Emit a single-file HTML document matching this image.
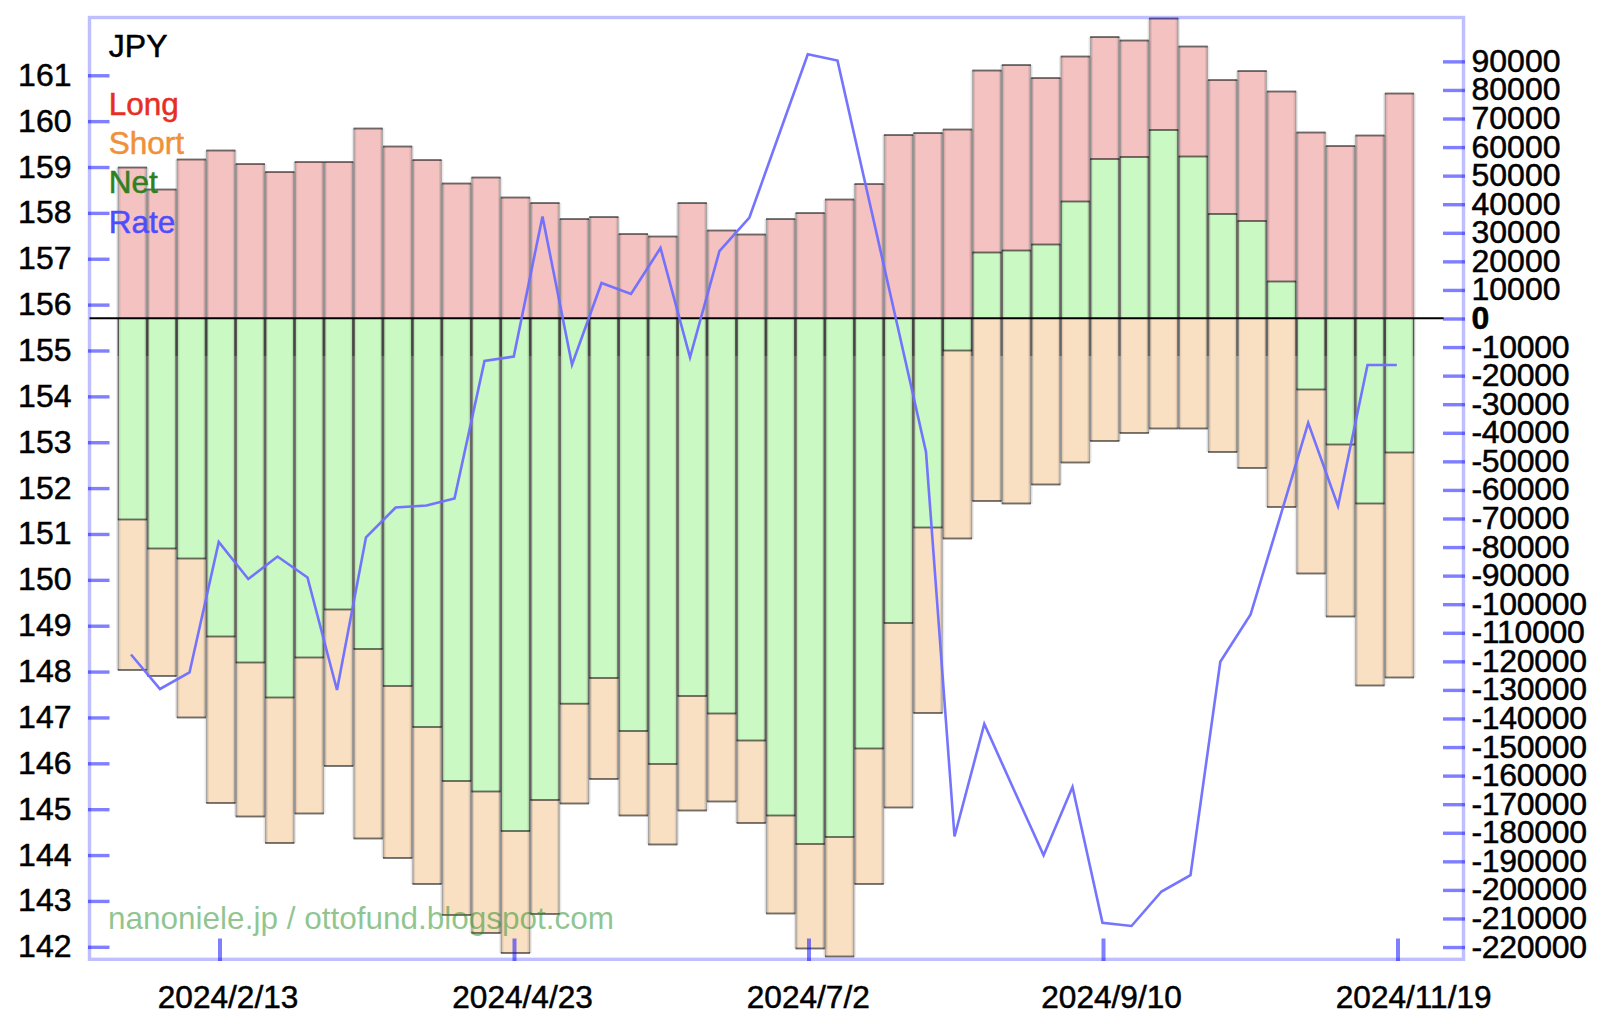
<!DOCTYPE html>
<html><head><meta charset="utf-8"><title>JPY</title>
<style>html,body{margin:0;padding:0;background:#fff}svg{display:block}</style></head>
<body>
<svg width="1600" height="1025" viewBox="0 0 1600 1025">
<rect width="1600" height="1025" fill="#fff"/>
<g><rect x="118.85" y="167.50" width="27.165" height="150.80" fill="#f4c2c1"/><rect x="118.85" y="318.3" width="27.165" height="351.70" fill="#fae0c3"/><rect x="148.31" y="189.50" width="27.165" height="128.80" fill="#f4c2c1"/><rect x="148.31" y="318.3" width="27.165" height="357.70" fill="#fae0c3"/><rect x="177.78" y="159.50" width="27.165" height="158.80" fill="#f4c2c1"/><rect x="177.78" y="318.3" width="27.165" height="399.20" fill="#fae0c3"/><rect x="207.25" y="150.50" width="27.165" height="167.80" fill="#f4c2c1"/><rect x="207.25" y="318.3" width="27.165" height="484.70" fill="#fae0c3"/><rect x="236.71" y="164.00" width="27.165" height="154.30" fill="#f4c2c1"/><rect x="236.71" y="318.3" width="27.165" height="498.20" fill="#fae0c3"/><rect x="266.17" y="172.00" width="27.165" height="146.30" fill="#f4c2c1"/><rect x="266.17" y="318.3" width="27.165" height="524.70" fill="#fae0c3"/><rect x="295.64" y="162.00" width="27.165" height="156.30" fill="#f4c2c1"/><rect x="295.64" y="318.3" width="27.165" height="495.20" fill="#fae0c3"/><rect x="325.10" y="162.00" width="27.165" height="156.30" fill="#f4c2c1"/><rect x="325.10" y="318.3" width="27.165" height="447.70" fill="#fae0c3"/><rect x="354.57" y="128.50" width="27.165" height="189.80" fill="#f4c2c1"/><rect x="354.57" y="318.3" width="27.165" height="520.20" fill="#fae0c3"/><rect x="384.03" y="146.50" width="27.165" height="171.80" fill="#f4c2c1"/><rect x="384.03" y="318.3" width="27.165" height="539.70" fill="#fae0c3"/><rect x="413.50" y="160.00" width="27.165" height="158.30" fill="#f4c2c1"/><rect x="413.50" y="318.3" width="27.165" height="565.70" fill="#fae0c3"/><rect x="442.96" y="183.50" width="27.165" height="134.80" fill="#f4c2c1"/><rect x="442.96" y="318.3" width="27.165" height="596.70" fill="#fae0c3"/><rect x="472.43" y="177.50" width="27.165" height="140.80" fill="#f4c2c1"/><rect x="472.43" y="318.3" width="27.165" height="614.70" fill="#fae0c3"/><rect x="501.89" y="197.50" width="27.165" height="120.80" fill="#f4c2c1"/><rect x="501.89" y="318.3" width="27.165" height="634.70" fill="#fae0c3"/><rect x="531.36" y="203.00" width="27.165" height="115.30" fill="#f4c2c1"/><rect x="531.36" y="318.3" width="27.165" height="595.70" fill="#fae0c3"/><rect x="560.83" y="219.00" width="27.165" height="99.30" fill="#f4c2c1"/><rect x="560.83" y="318.3" width="27.165" height="485.20" fill="#fae0c3"/><rect x="590.29" y="217.00" width="27.165" height="101.30" fill="#f4c2c1"/><rect x="590.29" y="318.3" width="27.165" height="460.70" fill="#fae0c3"/><rect x="619.75" y="234.00" width="27.165" height="84.30" fill="#f4c2c1"/><rect x="619.75" y="318.3" width="27.165" height="497.20" fill="#fae0c3"/><rect x="649.22" y="236.50" width="27.165" height="81.80" fill="#f4c2c1"/><rect x="649.22" y="318.3" width="27.165" height="526.20" fill="#fae0c3"/><rect x="678.69" y="203.00" width="27.165" height="115.30" fill="#f4c2c1"/><rect x="678.69" y="318.3" width="27.165" height="492.20" fill="#fae0c3"/><rect x="708.15" y="230.50" width="27.165" height="87.80" fill="#f4c2c1"/><rect x="708.15" y="318.3" width="27.165" height="483.20" fill="#fae0c3"/><rect x="737.62" y="234.50" width="27.165" height="83.80" fill="#f4c2c1"/><rect x="737.62" y="318.3" width="27.165" height="504.70" fill="#fae0c3"/><rect x="767.08" y="219.00" width="27.165" height="99.30" fill="#f4c2c1"/><rect x="767.08" y="318.3" width="27.165" height="595.20" fill="#fae0c3"/><rect x="796.55" y="213.00" width="27.165" height="105.30" fill="#f4c2c1"/><rect x="796.55" y="318.3" width="27.165" height="630.20" fill="#fae0c3"/><rect x="826.01" y="199.50" width="27.165" height="118.80" fill="#f4c2c1"/><rect x="826.01" y="318.3" width="27.165" height="638.20" fill="#fae0c3"/><rect x="855.48" y="184.00" width="27.165" height="134.30" fill="#f4c2c1"/><rect x="855.48" y="318.3" width="27.165" height="565.70" fill="#fae0c3"/><rect x="884.94" y="135.00" width="27.165" height="183.30" fill="#f4c2c1"/><rect x="884.94" y="318.3" width="27.165" height="489.20" fill="#fae0c3"/><rect x="914.40" y="133.00" width="27.165" height="185.30" fill="#f4c2c1"/><rect x="914.40" y="318.3" width="27.165" height="394.70" fill="#fae0c3"/><rect x="943.87" y="129.50" width="27.165" height="188.80" fill="#f4c2c1"/><rect x="943.87" y="318.3" width="27.165" height="220.20" fill="#fae0c3"/><rect x="973.34" y="70.50" width="27.165" height="247.80" fill="#f4c2c1"/><rect x="973.34" y="318.3" width="27.165" height="182.70" fill="#fae0c3"/><rect x="1002.80" y="65.00" width="27.165" height="253.30" fill="#f4c2c1"/><rect x="1002.80" y="318.3" width="27.165" height="185.20" fill="#fae0c3"/><rect x="1032.27" y="78.00" width="27.165" height="240.30" fill="#f4c2c1"/><rect x="1032.27" y="318.3" width="27.165" height="166.20" fill="#fae0c3"/><rect x="1061.73" y="56.50" width="27.165" height="261.80" fill="#f4c2c1"/><rect x="1061.73" y="318.3" width="27.165" height="144.20" fill="#fae0c3"/><rect x="1091.20" y="37.00" width="27.165" height="281.30" fill="#f4c2c1"/><rect x="1091.20" y="318.3" width="27.165" height="122.70" fill="#fae0c3"/><rect x="1120.66" y="40.50" width="27.165" height="277.80" fill="#f4c2c1"/><rect x="1120.66" y="318.3" width="27.165" height="114.70" fill="#fae0c3"/><rect x="1150.13" y="18.50" width="27.165" height="299.80" fill="#f4c2c1"/><rect x="1150.13" y="318.3" width="27.165" height="110.20" fill="#fae0c3"/><rect x="1179.59" y="46.50" width="27.165" height="271.80" fill="#f4c2c1"/><rect x="1179.59" y="318.3" width="27.165" height="110.20" fill="#fae0c3"/><rect x="1209.06" y="80.00" width="27.165" height="238.30" fill="#f4c2c1"/><rect x="1209.06" y="318.3" width="27.165" height="133.70" fill="#fae0c3"/><rect x="1238.52" y="71.00" width="27.165" height="247.30" fill="#f4c2c1"/><rect x="1238.52" y="318.3" width="27.165" height="149.70" fill="#fae0c3"/><rect x="1267.99" y="91.50" width="27.165" height="226.80" fill="#f4c2c1"/><rect x="1267.99" y="318.3" width="27.165" height="188.70" fill="#fae0c3"/><rect x="1297.45" y="132.50" width="27.165" height="185.80" fill="#f4c2c1"/><rect x="1297.45" y="318.3" width="27.165" height="255.20" fill="#fae0c3"/><rect x="1326.92" y="146.00" width="27.165" height="172.30" fill="#f4c2c1"/><rect x="1326.92" y="318.3" width="27.165" height="298.20" fill="#fae0c3"/><rect x="1356.38" y="135.50" width="27.165" height="182.80" fill="#f4c2c1"/><rect x="1356.38" y="318.3" width="27.165" height="367.20" fill="#fae0c3"/><rect x="1385.85" y="93.50" width="27.165" height="224.80" fill="#f4c2c1"/><rect x="1385.85" y="318.3" width="27.165" height="359.20" fill="#fae0c3"/><rect x="118.85" y="318.30" width="27.165" height="201.20" fill="#cbf9c4"/><rect x="148.31" y="318.30" width="27.165" height="230.20" fill="#cbf9c4"/><rect x="177.78" y="318.30" width="27.165" height="240.20" fill="#cbf9c4"/><rect x="207.25" y="318.30" width="27.165" height="318.20" fill="#cbf9c4"/><rect x="236.71" y="318.30" width="27.165" height="344.20" fill="#cbf9c4"/><rect x="266.17" y="318.30" width="27.165" height="379.20" fill="#cbf9c4"/><rect x="295.64" y="318.30" width="27.165" height="339.20" fill="#cbf9c4"/><rect x="325.10" y="318.30" width="27.165" height="291.20" fill="#cbf9c4"/><rect x="354.57" y="318.30" width="27.165" height="330.70" fill="#cbf9c4"/><rect x="384.03" y="318.30" width="27.165" height="367.70" fill="#cbf9c4"/><rect x="413.50" y="318.30" width="27.165" height="408.70" fill="#cbf9c4"/><rect x="442.96" y="318.30" width="27.165" height="462.70" fill="#cbf9c4"/><rect x="472.43" y="318.30" width="27.165" height="473.20" fill="#cbf9c4"/><rect x="501.89" y="318.30" width="27.165" height="512.70" fill="#cbf9c4"/><rect x="531.36" y="318.30" width="27.165" height="481.70" fill="#cbf9c4"/><rect x="560.83" y="318.30" width="27.165" height="385.45" fill="#cbf9c4"/><rect x="590.29" y="318.30" width="27.165" height="359.70" fill="#cbf9c4"/><rect x="619.75" y="318.30" width="27.165" height="412.70" fill="#cbf9c4"/><rect x="649.22" y="318.30" width="27.165" height="445.70" fill="#cbf9c4"/><rect x="678.69" y="318.30" width="27.165" height="377.70" fill="#cbf9c4"/><rect x="708.15" y="318.30" width="27.165" height="395.20" fill="#cbf9c4"/><rect x="737.62" y="318.30" width="27.165" height="422.20" fill="#cbf9c4"/><rect x="767.08" y="318.30" width="27.165" height="497.20" fill="#cbf9c4"/><rect x="796.55" y="318.30" width="27.165" height="525.70" fill="#cbf9c4"/><rect x="826.01" y="318.30" width="27.165" height="518.70" fill="#cbf9c4"/><rect x="855.48" y="318.30" width="27.165" height="430.20" fill="#cbf9c4"/><rect x="884.94" y="318.30" width="27.165" height="304.70" fill="#cbf9c4"/><rect x="914.40" y="318.30" width="27.165" height="209.20" fill="#cbf9c4"/><rect x="943.87" y="318.30" width="27.165" height="32.20" fill="#cbf9c4"/><rect x="973.34" y="252.50" width="27.165" height="65.80" fill="#cbf9c4"/><rect x="1002.80" y="250.50" width="27.165" height="67.80" fill="#cbf9c4"/><rect x="1032.27" y="244.50" width="27.165" height="73.80" fill="#cbf9c4"/><rect x="1061.73" y="201.50" width="27.165" height="116.80" fill="#cbf9c4"/><rect x="1091.20" y="159.00" width="27.165" height="159.30" fill="#cbf9c4"/><rect x="1120.66" y="157.00" width="27.165" height="161.30" fill="#cbf9c4"/><rect x="1150.13" y="130.00" width="27.165" height="188.30" fill="#cbf9c4"/><rect x="1179.59" y="156.50" width="27.165" height="161.80" fill="#cbf9c4"/><rect x="1209.06" y="214.00" width="27.165" height="104.30" fill="#cbf9c4"/><rect x="1238.52" y="221.00" width="27.165" height="97.30" fill="#cbf9c4"/><rect x="1267.99" y="281.50" width="27.165" height="36.80" fill="#cbf9c4"/><rect x="1297.45" y="318.30" width="27.165" height="71.20" fill="#cbf9c4"/><rect x="1326.92" y="318.30" width="27.165" height="126.20" fill="#cbf9c4"/><rect x="1356.38" y="318.30" width="27.165" height="185.20" fill="#cbf9c4"/><rect x="1385.85" y="318.30" width="27.165" height="134.20" fill="#cbf9c4"/></g>
<g stroke="#000" stroke-opacity="0.085" stroke-width="4.4"><line x1="118.30" y1="167.50" x2="118.30" y2="318.30"/><line x1="146.56" y1="167.50" x2="146.56" y2="318.30"/><line x1="118.30" y1="318.30" x2="118.30" y2="670.00"/><line x1="146.56" y1="318.30" x2="146.56" y2="670.00"/><line x1="147.76" y1="189.50" x2="147.76" y2="318.30"/><line x1="176.03" y1="189.50" x2="176.03" y2="318.30"/><line x1="147.76" y1="318.30" x2="147.76" y2="676.00"/><line x1="176.03" y1="318.30" x2="176.03" y2="676.00"/><line x1="177.23" y1="159.50" x2="177.23" y2="318.30"/><line x1="205.50" y1="159.50" x2="205.50" y2="318.30"/><line x1="177.23" y1="318.30" x2="177.23" y2="717.50"/><line x1="205.50" y1="318.30" x2="205.50" y2="717.50"/><line x1="206.69" y1="150.50" x2="206.69" y2="318.30"/><line x1="234.96" y1="150.50" x2="234.96" y2="318.30"/><line x1="206.69" y1="318.30" x2="206.69" y2="803.00"/><line x1="234.96" y1="318.30" x2="234.96" y2="803.00"/><line x1="236.16" y1="164.00" x2="236.16" y2="318.30"/><line x1="264.42" y1="164.00" x2="264.42" y2="318.30"/><line x1="236.16" y1="318.30" x2="236.16" y2="816.50"/><line x1="264.42" y1="318.30" x2="264.42" y2="816.50"/><line x1="265.62" y1="172.00" x2="265.62" y2="318.30"/><line x1="293.89" y1="172.00" x2="293.89" y2="318.30"/><line x1="265.62" y1="318.30" x2="265.62" y2="843.00"/><line x1="293.89" y1="318.30" x2="293.89" y2="843.00"/><line x1="295.09" y1="162.00" x2="295.09" y2="318.30"/><line x1="323.35" y1="162.00" x2="323.35" y2="318.30"/><line x1="295.09" y1="318.30" x2="295.09" y2="813.50"/><line x1="323.35" y1="318.30" x2="323.35" y2="813.50"/><line x1="324.56" y1="162.00" x2="324.56" y2="318.30"/><line x1="352.82" y1="162.00" x2="352.82" y2="318.30"/><line x1="324.56" y1="318.30" x2="324.56" y2="766.00"/><line x1="352.82" y1="318.30" x2="352.82" y2="766.00"/><line x1="354.02" y1="128.50" x2="354.02" y2="318.30"/><line x1="382.28" y1="128.50" x2="382.28" y2="318.30"/><line x1="354.02" y1="318.30" x2="354.02" y2="838.50"/><line x1="382.28" y1="318.30" x2="382.28" y2="838.50"/><line x1="383.49" y1="146.50" x2="383.49" y2="318.30"/><line x1="411.75" y1="146.50" x2="411.75" y2="318.30"/><line x1="383.49" y1="318.30" x2="383.49" y2="858.00"/><line x1="411.75" y1="318.30" x2="411.75" y2="858.00"/><line x1="412.95" y1="160.00" x2="412.95" y2="318.30"/><line x1="441.21" y1="160.00" x2="441.21" y2="318.30"/><line x1="412.95" y1="318.30" x2="412.95" y2="884.00"/><line x1="441.21" y1="318.30" x2="441.21" y2="884.00"/><line x1="442.42" y1="183.50" x2="442.42" y2="318.30"/><line x1="470.68" y1="183.50" x2="470.68" y2="318.30"/><line x1="442.42" y1="318.30" x2="442.42" y2="915.00"/><line x1="470.68" y1="318.30" x2="470.68" y2="915.00"/><line x1="471.88" y1="177.50" x2="471.88" y2="318.30"/><line x1="500.14" y1="177.50" x2="500.14" y2="318.30"/><line x1="471.88" y1="318.30" x2="471.88" y2="933.00"/><line x1="500.14" y1="318.30" x2="500.14" y2="933.00"/><line x1="501.35" y1="197.50" x2="501.35" y2="318.30"/><line x1="529.61" y1="197.50" x2="529.61" y2="318.30"/><line x1="501.35" y1="318.30" x2="501.35" y2="953.00"/><line x1="529.61" y1="318.30" x2="529.61" y2="953.00"/><line x1="530.81" y1="203.00" x2="530.81" y2="318.30"/><line x1="559.08" y1="203.00" x2="559.08" y2="318.30"/><line x1="530.81" y1="318.30" x2="530.81" y2="914.00"/><line x1="559.08" y1="318.30" x2="559.08" y2="914.00"/><line x1="560.28" y1="219.00" x2="560.28" y2="318.30"/><line x1="588.54" y1="219.00" x2="588.54" y2="318.30"/><line x1="560.28" y1="318.30" x2="560.28" y2="803.50"/><line x1="588.54" y1="318.30" x2="588.54" y2="803.50"/><line x1="589.74" y1="217.00" x2="589.74" y2="318.30"/><line x1="618.00" y1="217.00" x2="618.00" y2="318.30"/><line x1="589.74" y1="318.30" x2="589.74" y2="779.00"/><line x1="618.00" y1="318.30" x2="618.00" y2="779.00"/><line x1="619.21" y1="234.00" x2="619.21" y2="318.30"/><line x1="647.47" y1="234.00" x2="647.47" y2="318.30"/><line x1="619.21" y1="318.30" x2="619.21" y2="815.50"/><line x1="647.47" y1="318.30" x2="647.47" y2="815.50"/><line x1="648.67" y1="236.50" x2="648.67" y2="318.30"/><line x1="676.94" y1="236.50" x2="676.94" y2="318.30"/><line x1="648.67" y1="318.30" x2="648.67" y2="844.50"/><line x1="676.94" y1="318.30" x2="676.94" y2="844.50"/><line x1="678.14" y1="203.00" x2="678.14" y2="318.30"/><line x1="706.40" y1="203.00" x2="706.40" y2="318.30"/><line x1="678.14" y1="318.30" x2="678.14" y2="810.50"/><line x1="706.40" y1="318.30" x2="706.40" y2="810.50"/><line x1="707.60" y1="230.50" x2="707.60" y2="318.30"/><line x1="735.87" y1="230.50" x2="735.87" y2="318.30"/><line x1="707.60" y1="318.30" x2="707.60" y2="801.50"/><line x1="735.87" y1="318.30" x2="735.87" y2="801.50"/><line x1="737.07" y1="234.50" x2="737.07" y2="318.30"/><line x1="765.33" y1="234.50" x2="765.33" y2="318.30"/><line x1="737.07" y1="318.30" x2="737.07" y2="823.00"/><line x1="765.33" y1="318.30" x2="765.33" y2="823.00"/><line x1="766.53" y1="219.00" x2="766.53" y2="318.30"/><line x1="794.80" y1="219.00" x2="794.80" y2="318.30"/><line x1="766.53" y1="318.30" x2="766.53" y2="913.50"/><line x1="794.80" y1="318.30" x2="794.80" y2="913.50"/><line x1="796.00" y1="213.00" x2="796.00" y2="318.30"/><line x1="824.26" y1="213.00" x2="824.26" y2="318.30"/><line x1="796.00" y1="318.30" x2="796.00" y2="948.50"/><line x1="824.26" y1="318.30" x2="824.26" y2="948.50"/><line x1="825.46" y1="199.50" x2="825.46" y2="318.30"/><line x1="853.73" y1="199.50" x2="853.73" y2="318.30"/><line x1="825.46" y1="318.30" x2="825.46" y2="956.50"/><line x1="853.73" y1="318.30" x2="853.73" y2="956.50"/><line x1="854.93" y1="184.00" x2="854.93" y2="318.30"/><line x1="883.19" y1="184.00" x2="883.19" y2="318.30"/><line x1="854.93" y1="318.30" x2="854.93" y2="884.00"/><line x1="883.19" y1="318.30" x2="883.19" y2="884.00"/><line x1="884.39" y1="135.00" x2="884.39" y2="318.30"/><line x1="912.65" y1="135.00" x2="912.65" y2="318.30"/><line x1="884.39" y1="318.30" x2="884.39" y2="807.50"/><line x1="912.65" y1="318.30" x2="912.65" y2="807.50"/><line x1="913.86" y1="133.00" x2="913.86" y2="318.30"/><line x1="942.12" y1="133.00" x2="942.12" y2="318.30"/><line x1="913.86" y1="318.30" x2="913.86" y2="713.00"/><line x1="942.12" y1="318.30" x2="942.12" y2="713.00"/><line x1="943.32" y1="129.50" x2="943.32" y2="318.30"/><line x1="971.59" y1="129.50" x2="971.59" y2="318.30"/><line x1="943.32" y1="318.30" x2="943.32" y2="538.50"/><line x1="971.59" y1="318.30" x2="971.59" y2="538.50"/><line x1="972.79" y1="70.50" x2="972.79" y2="318.30"/><line x1="1001.05" y1="70.50" x2="1001.05" y2="318.30"/><line x1="972.79" y1="318.30" x2="972.79" y2="501.00"/><line x1="1001.05" y1="318.30" x2="1001.05" y2="501.00"/><line x1="1002.25" y1="65.00" x2="1002.25" y2="318.30"/><line x1="1030.52" y1="65.00" x2="1030.52" y2="318.30"/><line x1="1002.25" y1="318.30" x2="1002.25" y2="503.50"/><line x1="1030.52" y1="318.30" x2="1030.52" y2="503.50"/><line x1="1031.71" y1="78.00" x2="1031.71" y2="318.30"/><line x1="1059.98" y1="78.00" x2="1059.98" y2="318.30"/><line x1="1031.71" y1="318.30" x2="1031.71" y2="484.50"/><line x1="1059.98" y1="318.30" x2="1059.98" y2="484.50"/><line x1="1061.18" y1="56.50" x2="1061.18" y2="318.30"/><line x1="1089.45" y1="56.50" x2="1089.45" y2="318.30"/><line x1="1061.18" y1="318.30" x2="1061.18" y2="462.50"/><line x1="1089.45" y1="318.30" x2="1089.45" y2="462.50"/><line x1="1090.64" y1="37.00" x2="1090.64" y2="318.30"/><line x1="1118.91" y1="37.00" x2="1118.91" y2="318.30"/><line x1="1090.64" y1="318.30" x2="1090.64" y2="441.00"/><line x1="1118.91" y1="318.30" x2="1118.91" y2="441.00"/><line x1="1120.11" y1="40.50" x2="1120.11" y2="318.30"/><line x1="1148.38" y1="40.50" x2="1148.38" y2="318.30"/><line x1="1120.11" y1="318.30" x2="1120.11" y2="433.00"/><line x1="1148.38" y1="318.30" x2="1148.38" y2="433.00"/><line x1="1149.58" y1="18.50" x2="1149.58" y2="318.30"/><line x1="1177.84" y1="18.50" x2="1177.84" y2="318.30"/><line x1="1149.58" y1="318.30" x2="1149.58" y2="428.50"/><line x1="1177.84" y1="318.30" x2="1177.84" y2="428.50"/><line x1="1179.04" y1="46.50" x2="1179.04" y2="318.30"/><line x1="1207.31" y1="46.50" x2="1207.31" y2="318.30"/><line x1="1179.04" y1="318.30" x2="1179.04" y2="428.50"/><line x1="1207.31" y1="318.30" x2="1207.31" y2="428.50"/><line x1="1208.50" y1="80.00" x2="1208.50" y2="318.30"/><line x1="1236.77" y1="80.00" x2="1236.77" y2="318.30"/><line x1="1208.50" y1="318.30" x2="1208.50" y2="452.00"/><line x1="1236.77" y1="318.30" x2="1236.77" y2="452.00"/><line x1="1237.97" y1="71.00" x2="1237.97" y2="318.30"/><line x1="1266.24" y1="71.00" x2="1266.24" y2="318.30"/><line x1="1237.97" y1="318.30" x2="1237.97" y2="468.00"/><line x1="1266.24" y1="318.30" x2="1266.24" y2="468.00"/><line x1="1267.43" y1="91.50" x2="1267.43" y2="318.30"/><line x1="1295.70" y1="91.50" x2="1295.70" y2="318.30"/><line x1="1267.43" y1="318.30" x2="1267.43" y2="507.00"/><line x1="1295.70" y1="318.30" x2="1295.70" y2="507.00"/><line x1="1296.90" y1="132.50" x2="1296.90" y2="318.30"/><line x1="1325.17" y1="132.50" x2="1325.17" y2="318.30"/><line x1="1296.90" y1="318.30" x2="1296.90" y2="573.50"/><line x1="1325.17" y1="318.30" x2="1325.17" y2="573.50"/><line x1="1326.37" y1="146.00" x2="1326.37" y2="318.30"/><line x1="1354.63" y1="146.00" x2="1354.63" y2="318.30"/><line x1="1326.37" y1="318.30" x2="1326.37" y2="616.50"/><line x1="1354.63" y1="318.30" x2="1354.63" y2="616.50"/><line x1="1355.83" y1="135.50" x2="1355.83" y2="318.30"/><line x1="1384.10" y1="135.50" x2="1384.10" y2="318.30"/><line x1="1355.83" y1="318.30" x2="1355.83" y2="685.50"/><line x1="1384.10" y1="318.30" x2="1384.10" y2="685.50"/><line x1="1385.29" y1="93.50" x2="1385.29" y2="318.30"/><line x1="1413.56" y1="93.50" x2="1413.56" y2="318.30"/><line x1="1385.29" y1="318.30" x2="1385.29" y2="677.50"/><line x1="1413.56" y1="318.30" x2="1413.56" y2="677.50"/></g>
<g stroke="#000" stroke-opacity="0.29" stroke-width="1.35"><line x1="118.30" y1="167.50" x2="118.30" y2="318.30"/><line x1="146.56" y1="167.50" x2="146.56" y2="318.30"/><line x1="118.30" y1="318.30" x2="118.30" y2="670.00"/><line x1="146.56" y1="318.30" x2="146.56" y2="670.00"/><line x1="118.30" y1="318.30" x2="118.30" y2="519.50"/><line x1="146.56" y1="318.30" x2="146.56" y2="519.50"/><line x1="118.30" y1="318.30" x2="118.30" y2="356.00"/><line x1="146.56" y1="318.30" x2="146.56" y2="356.00"/><line x1="147.76" y1="189.50" x2="147.76" y2="318.30"/><line x1="176.03" y1="189.50" x2="176.03" y2="318.30"/><line x1="147.76" y1="318.30" x2="147.76" y2="676.00"/><line x1="176.03" y1="318.30" x2="176.03" y2="676.00"/><line x1="147.76" y1="318.30" x2="147.76" y2="548.50"/><line x1="176.03" y1="318.30" x2="176.03" y2="548.50"/><line x1="147.76" y1="318.30" x2="147.76" y2="356.00"/><line x1="176.03" y1="318.30" x2="176.03" y2="356.00"/><line x1="177.23" y1="159.50" x2="177.23" y2="318.30"/><line x1="205.50" y1="159.50" x2="205.50" y2="318.30"/><line x1="177.23" y1="318.30" x2="177.23" y2="717.50"/><line x1="205.50" y1="318.30" x2="205.50" y2="717.50"/><line x1="177.23" y1="318.30" x2="177.23" y2="558.50"/><line x1="205.50" y1="318.30" x2="205.50" y2="558.50"/><line x1="177.23" y1="318.30" x2="177.23" y2="356.00"/><line x1="205.50" y1="318.30" x2="205.50" y2="356.00"/><line x1="206.69" y1="150.50" x2="206.69" y2="318.30"/><line x1="234.96" y1="150.50" x2="234.96" y2="318.30"/><line x1="206.69" y1="318.30" x2="206.69" y2="803.00"/><line x1="234.96" y1="318.30" x2="234.96" y2="803.00"/><line x1="206.69" y1="318.30" x2="206.69" y2="636.50"/><line x1="234.96" y1="318.30" x2="234.96" y2="636.50"/><line x1="206.69" y1="318.30" x2="206.69" y2="356.00"/><line x1="234.96" y1="318.30" x2="234.96" y2="356.00"/><line x1="236.16" y1="164.00" x2="236.16" y2="318.30"/><line x1="264.42" y1="164.00" x2="264.42" y2="318.30"/><line x1="236.16" y1="318.30" x2="236.16" y2="816.50"/><line x1="264.42" y1="318.30" x2="264.42" y2="816.50"/><line x1="236.16" y1="318.30" x2="236.16" y2="662.50"/><line x1="264.42" y1="318.30" x2="264.42" y2="662.50"/><line x1="236.16" y1="318.30" x2="236.16" y2="356.00"/><line x1="264.42" y1="318.30" x2="264.42" y2="356.00"/><line x1="265.62" y1="172.00" x2="265.62" y2="318.30"/><line x1="293.89" y1="172.00" x2="293.89" y2="318.30"/><line x1="265.62" y1="318.30" x2="265.62" y2="843.00"/><line x1="293.89" y1="318.30" x2="293.89" y2="843.00"/><line x1="265.62" y1="318.30" x2="265.62" y2="697.50"/><line x1="293.89" y1="318.30" x2="293.89" y2="697.50"/><line x1="265.62" y1="318.30" x2="265.62" y2="356.00"/><line x1="293.89" y1="318.30" x2="293.89" y2="356.00"/><line x1="295.09" y1="162.00" x2="295.09" y2="318.30"/><line x1="323.35" y1="162.00" x2="323.35" y2="318.30"/><line x1="295.09" y1="318.30" x2="295.09" y2="813.50"/><line x1="323.35" y1="318.30" x2="323.35" y2="813.50"/><line x1="295.09" y1="318.30" x2="295.09" y2="657.50"/><line x1="323.35" y1="318.30" x2="323.35" y2="657.50"/><line x1="295.09" y1="318.30" x2="295.09" y2="356.00"/><line x1="323.35" y1="318.30" x2="323.35" y2="356.00"/><line x1="324.56" y1="162.00" x2="324.56" y2="318.30"/><line x1="352.82" y1="162.00" x2="352.82" y2="318.30"/><line x1="324.56" y1="318.30" x2="324.56" y2="766.00"/><line x1="352.82" y1="318.30" x2="352.82" y2="766.00"/><line x1="324.56" y1="318.30" x2="324.56" y2="609.50"/><line x1="352.82" y1="318.30" x2="352.82" y2="609.50"/><line x1="324.56" y1="318.30" x2="324.56" y2="356.00"/><line x1="352.82" y1="318.30" x2="352.82" y2="356.00"/><line x1="354.02" y1="128.50" x2="354.02" y2="318.30"/><line x1="382.28" y1="128.50" x2="382.28" y2="318.30"/><line x1="354.02" y1="318.30" x2="354.02" y2="838.50"/><line x1="382.28" y1="318.30" x2="382.28" y2="838.50"/><line x1="354.02" y1="318.30" x2="354.02" y2="649.00"/><line x1="382.28" y1="318.30" x2="382.28" y2="649.00"/><line x1="354.02" y1="318.30" x2="354.02" y2="356.00"/><line x1="382.28" y1="318.30" x2="382.28" y2="356.00"/><line x1="383.49" y1="146.50" x2="383.49" y2="318.30"/><line x1="411.75" y1="146.50" x2="411.75" y2="318.30"/><line x1="383.49" y1="318.30" x2="383.49" y2="858.00"/><line x1="411.75" y1="318.30" x2="411.75" y2="858.00"/><line x1="383.49" y1="318.30" x2="383.49" y2="686.00"/><line x1="411.75" y1="318.30" x2="411.75" y2="686.00"/><line x1="383.49" y1="318.30" x2="383.49" y2="356.00"/><line x1="411.75" y1="318.30" x2="411.75" y2="356.00"/><line x1="412.95" y1="160.00" x2="412.95" y2="318.30"/><line x1="441.21" y1="160.00" x2="441.21" y2="318.30"/><line x1="412.95" y1="318.30" x2="412.95" y2="884.00"/><line x1="441.21" y1="318.30" x2="441.21" y2="884.00"/><line x1="412.95" y1="318.30" x2="412.95" y2="727.00"/><line x1="441.21" y1="318.30" x2="441.21" y2="727.00"/><line x1="412.95" y1="318.30" x2="412.95" y2="356.00"/><line x1="441.21" y1="318.30" x2="441.21" y2="356.00"/><line x1="442.42" y1="183.50" x2="442.42" y2="318.30"/><line x1="470.68" y1="183.50" x2="470.68" y2="318.30"/><line x1="442.42" y1="318.30" x2="442.42" y2="915.00"/><line x1="470.68" y1="318.30" x2="470.68" y2="915.00"/><line x1="442.42" y1="318.30" x2="442.42" y2="781.00"/><line x1="470.68" y1="318.30" x2="470.68" y2="781.00"/><line x1="442.42" y1="318.30" x2="442.42" y2="356.00"/><line x1="470.68" y1="318.30" x2="470.68" y2="356.00"/><line x1="471.88" y1="177.50" x2="471.88" y2="318.30"/><line x1="500.14" y1="177.50" x2="500.14" y2="318.30"/><line x1="471.88" y1="318.30" x2="471.88" y2="933.00"/><line x1="500.14" y1="318.30" x2="500.14" y2="933.00"/><line x1="471.88" y1="318.30" x2="471.88" y2="791.50"/><line x1="500.14" y1="318.30" x2="500.14" y2="791.50"/><line x1="471.88" y1="318.30" x2="471.88" y2="356.00"/><line x1="500.14" y1="318.30" x2="500.14" y2="356.00"/><line x1="501.35" y1="197.50" x2="501.35" y2="318.30"/><line x1="529.61" y1="197.50" x2="529.61" y2="318.30"/><line x1="501.35" y1="318.30" x2="501.35" y2="953.00"/><line x1="529.61" y1="318.30" x2="529.61" y2="953.00"/><line x1="501.35" y1="318.30" x2="501.35" y2="831.00"/><line x1="529.61" y1="318.30" x2="529.61" y2="831.00"/><line x1="501.35" y1="318.30" x2="501.35" y2="356.00"/><line x1="529.61" y1="318.30" x2="529.61" y2="356.00"/><line x1="530.81" y1="203.00" x2="530.81" y2="318.30"/><line x1="559.08" y1="203.00" x2="559.08" y2="318.30"/><line x1="530.81" y1="318.30" x2="530.81" y2="914.00"/><line x1="559.08" y1="318.30" x2="559.08" y2="914.00"/><line x1="530.81" y1="318.30" x2="530.81" y2="800.00"/><line x1="559.08" y1="318.30" x2="559.08" y2="800.00"/><line x1="530.81" y1="318.30" x2="530.81" y2="356.00"/><line x1="559.08" y1="318.30" x2="559.08" y2="356.00"/><line x1="560.28" y1="219.00" x2="560.28" y2="318.30"/><line x1="588.54" y1="219.00" x2="588.54" y2="318.30"/><line x1="560.28" y1="318.30" x2="560.28" y2="803.50"/><line x1="588.54" y1="318.30" x2="588.54" y2="803.50"/><line x1="560.28" y1="318.30" x2="560.28" y2="703.75"/><line x1="588.54" y1="318.30" x2="588.54" y2="703.75"/><line x1="560.28" y1="318.30" x2="560.28" y2="356.00"/><line x1="588.54" y1="318.30" x2="588.54" y2="356.00"/><line x1="589.74" y1="217.00" x2="589.74" y2="318.30"/><line x1="618.00" y1="217.00" x2="618.00" y2="318.30"/><line x1="589.74" y1="318.30" x2="589.74" y2="779.00"/><line x1="618.00" y1="318.30" x2="618.00" y2="779.00"/><line x1="589.74" y1="318.30" x2="589.74" y2="678.00"/><line x1="618.00" y1="318.30" x2="618.00" y2="678.00"/><line x1="589.74" y1="318.30" x2="589.74" y2="356.00"/><line x1="618.00" y1="318.30" x2="618.00" y2="356.00"/><line x1="619.21" y1="234.00" x2="619.21" y2="318.30"/><line x1="647.47" y1="234.00" x2="647.47" y2="318.30"/><line x1="619.21" y1="318.30" x2="619.21" y2="815.50"/><line x1="647.47" y1="318.30" x2="647.47" y2="815.50"/><line x1="619.21" y1="318.30" x2="619.21" y2="731.00"/><line x1="647.47" y1="318.30" x2="647.47" y2="731.00"/><line x1="619.21" y1="318.30" x2="619.21" y2="356.00"/><line x1="647.47" y1="318.30" x2="647.47" y2="356.00"/><line x1="648.67" y1="236.50" x2="648.67" y2="318.30"/><line x1="676.94" y1="236.50" x2="676.94" y2="318.30"/><line x1="648.67" y1="318.30" x2="648.67" y2="844.50"/><line x1="676.94" y1="318.30" x2="676.94" y2="844.50"/><line x1="648.67" y1="318.30" x2="648.67" y2="764.00"/><line x1="676.94" y1="318.30" x2="676.94" y2="764.00"/><line x1="648.67" y1="318.30" x2="648.67" y2="356.00"/><line x1="676.94" y1="318.30" x2="676.94" y2="356.00"/><line x1="678.14" y1="203.00" x2="678.14" y2="318.30"/><line x1="706.40" y1="203.00" x2="706.40" y2="318.30"/><line x1="678.14" y1="318.30" x2="678.14" y2="810.50"/><line x1="706.40" y1="318.30" x2="706.40" y2="810.50"/><line x1="678.14" y1="318.30" x2="678.14" y2="696.00"/><line x1="706.40" y1="318.30" x2="706.40" y2="696.00"/><line x1="678.14" y1="318.30" x2="678.14" y2="356.00"/><line x1="706.40" y1="318.30" x2="706.40" y2="356.00"/><line x1="707.60" y1="230.50" x2="707.60" y2="318.30"/><line x1="735.87" y1="230.50" x2="735.87" y2="318.30"/><line x1="707.60" y1="318.30" x2="707.60" y2="801.50"/><line x1="735.87" y1="318.30" x2="735.87" y2="801.50"/><line x1="707.60" y1="318.30" x2="707.60" y2="713.50"/><line x1="735.87" y1="318.30" x2="735.87" y2="713.50"/><line x1="707.60" y1="318.30" x2="707.60" y2="356.00"/><line x1="735.87" y1="318.30" x2="735.87" y2="356.00"/><line x1="737.07" y1="234.50" x2="737.07" y2="318.30"/><line x1="765.33" y1="234.50" x2="765.33" y2="318.30"/><line x1="737.07" y1="318.30" x2="737.07" y2="823.00"/><line x1="765.33" y1="318.30" x2="765.33" y2="823.00"/><line x1="737.07" y1="318.30" x2="737.07" y2="740.50"/><line x1="765.33" y1="318.30" x2="765.33" y2="740.50"/><line x1="737.07" y1="318.30" x2="737.07" y2="356.00"/><line x1="765.33" y1="318.30" x2="765.33" y2="356.00"/><line x1="766.53" y1="219.00" x2="766.53" y2="318.30"/><line x1="794.80" y1="219.00" x2="794.80" y2="318.30"/><line x1="766.53" y1="318.30" x2="766.53" y2="913.50"/><line x1="794.80" y1="318.30" x2="794.80" y2="913.50"/><line x1="766.53" y1="318.30" x2="766.53" y2="815.50"/><line x1="794.80" y1="318.30" x2="794.80" y2="815.50"/><line x1="766.53" y1="318.30" x2="766.53" y2="356.00"/><line x1="794.80" y1="318.30" x2="794.80" y2="356.00"/><line x1="796.00" y1="213.00" x2="796.00" y2="318.30"/><line x1="824.26" y1="213.00" x2="824.26" y2="318.30"/><line x1="796.00" y1="318.30" x2="796.00" y2="948.50"/><line x1="824.26" y1="318.30" x2="824.26" y2="948.50"/><line x1="796.00" y1="318.30" x2="796.00" y2="844.00"/><line x1="824.26" y1="318.30" x2="824.26" y2="844.00"/><line x1="796.00" y1="318.30" x2="796.00" y2="356.00"/><line x1="824.26" y1="318.30" x2="824.26" y2="356.00"/><line x1="825.46" y1="199.50" x2="825.46" y2="318.30"/><line x1="853.73" y1="199.50" x2="853.73" y2="318.30"/><line x1="825.46" y1="318.30" x2="825.46" y2="956.50"/><line x1="853.73" y1="318.30" x2="853.73" y2="956.50"/><line x1="825.46" y1="318.30" x2="825.46" y2="837.00"/><line x1="853.73" y1="318.30" x2="853.73" y2="837.00"/><line x1="825.46" y1="318.30" x2="825.46" y2="356.00"/><line x1="853.73" y1="318.30" x2="853.73" y2="356.00"/><line x1="854.93" y1="184.00" x2="854.93" y2="318.30"/><line x1="883.19" y1="184.00" x2="883.19" y2="318.30"/><line x1="854.93" y1="318.30" x2="854.93" y2="884.00"/><line x1="883.19" y1="318.30" x2="883.19" y2="884.00"/><line x1="854.93" y1="318.30" x2="854.93" y2="748.50"/><line x1="883.19" y1="318.30" x2="883.19" y2="748.50"/><line x1="854.93" y1="318.30" x2="854.93" y2="356.00"/><line x1="883.19" y1="318.30" x2="883.19" y2="356.00"/><line x1="884.39" y1="135.00" x2="884.39" y2="318.30"/><line x1="912.65" y1="135.00" x2="912.65" y2="318.30"/><line x1="884.39" y1="318.30" x2="884.39" y2="807.50"/><line x1="912.65" y1="318.30" x2="912.65" y2="807.50"/><line x1="884.39" y1="318.30" x2="884.39" y2="623.00"/><line x1="912.65" y1="318.30" x2="912.65" y2="623.00"/><line x1="884.39" y1="318.30" x2="884.39" y2="356.00"/><line x1="912.65" y1="318.30" x2="912.65" y2="356.00"/><line x1="913.86" y1="133.00" x2="913.86" y2="318.30"/><line x1="942.12" y1="133.00" x2="942.12" y2="318.30"/><line x1="913.86" y1="318.30" x2="913.86" y2="713.00"/><line x1="942.12" y1="318.30" x2="942.12" y2="713.00"/><line x1="913.86" y1="318.30" x2="913.86" y2="527.50"/><line x1="942.12" y1="318.30" x2="942.12" y2="527.50"/><line x1="913.86" y1="318.30" x2="913.86" y2="356.00"/><line x1="942.12" y1="318.30" x2="942.12" y2="356.00"/><line x1="943.32" y1="129.50" x2="943.32" y2="318.30"/><line x1="971.59" y1="129.50" x2="971.59" y2="318.30"/><line x1="943.32" y1="318.30" x2="943.32" y2="538.50"/><line x1="971.59" y1="318.30" x2="971.59" y2="538.50"/><line x1="943.32" y1="318.30" x2="943.32" y2="350.50"/><line x1="971.59" y1="318.30" x2="971.59" y2="350.50"/><line x1="943.32" y1="318.30" x2="943.32" y2="356.00"/><line x1="971.59" y1="318.30" x2="971.59" y2="356.00"/><line x1="972.79" y1="70.50" x2="972.79" y2="318.30"/><line x1="1001.05" y1="70.50" x2="1001.05" y2="318.30"/><line x1="972.79" y1="318.30" x2="972.79" y2="501.00"/><line x1="1001.05" y1="318.30" x2="1001.05" y2="501.00"/><line x1="972.79" y1="252.50" x2="972.79" y2="318.30"/><line x1="1001.05" y1="252.50" x2="1001.05" y2="318.30"/><line x1="972.79" y1="318.30" x2="972.79" y2="356.00"/><line x1="1001.05" y1="318.30" x2="1001.05" y2="356.00"/><line x1="1002.25" y1="65.00" x2="1002.25" y2="318.30"/><line x1="1030.52" y1="65.00" x2="1030.52" y2="318.30"/><line x1="1002.25" y1="318.30" x2="1002.25" y2="503.50"/><line x1="1030.52" y1="318.30" x2="1030.52" y2="503.50"/><line x1="1002.25" y1="250.50" x2="1002.25" y2="318.30"/><line x1="1030.52" y1="250.50" x2="1030.52" y2="318.30"/><line x1="1002.25" y1="318.30" x2="1002.25" y2="356.00"/><line x1="1030.52" y1="318.30" x2="1030.52" y2="356.00"/><line x1="1031.71" y1="78.00" x2="1031.71" y2="318.30"/><line x1="1059.98" y1="78.00" x2="1059.98" y2="318.30"/><line x1="1031.71" y1="318.30" x2="1031.71" y2="484.50"/><line x1="1059.98" y1="318.30" x2="1059.98" y2="484.50"/><line x1="1031.71" y1="244.50" x2="1031.71" y2="318.30"/><line x1="1059.98" y1="244.50" x2="1059.98" y2="318.30"/><line x1="1031.71" y1="318.30" x2="1031.71" y2="356.00"/><line x1="1059.98" y1="318.30" x2="1059.98" y2="356.00"/><line x1="1061.18" y1="56.50" x2="1061.18" y2="318.30"/><line x1="1089.45" y1="56.50" x2="1089.45" y2="318.30"/><line x1="1061.18" y1="318.30" x2="1061.18" y2="462.50"/><line x1="1089.45" y1="318.30" x2="1089.45" y2="462.50"/><line x1="1061.18" y1="201.50" x2="1061.18" y2="318.30"/><line x1="1089.45" y1="201.50" x2="1089.45" y2="318.30"/><line x1="1061.18" y1="318.30" x2="1061.18" y2="356.00"/><line x1="1089.45" y1="318.30" x2="1089.45" y2="356.00"/><line x1="1090.64" y1="37.00" x2="1090.64" y2="318.30"/><line x1="1118.91" y1="37.00" x2="1118.91" y2="318.30"/><line x1="1090.64" y1="318.30" x2="1090.64" y2="441.00"/><line x1="1118.91" y1="318.30" x2="1118.91" y2="441.00"/><line x1="1090.64" y1="159.00" x2="1090.64" y2="318.30"/><line x1="1118.91" y1="159.00" x2="1118.91" y2="318.30"/><line x1="1090.64" y1="318.30" x2="1090.64" y2="356.00"/><line x1="1118.91" y1="318.30" x2="1118.91" y2="356.00"/><line x1="1120.11" y1="40.50" x2="1120.11" y2="318.30"/><line x1="1148.38" y1="40.50" x2="1148.38" y2="318.30"/><line x1="1120.11" y1="318.30" x2="1120.11" y2="433.00"/><line x1="1148.38" y1="318.30" x2="1148.38" y2="433.00"/><line x1="1120.11" y1="157.00" x2="1120.11" y2="318.30"/><line x1="1148.38" y1="157.00" x2="1148.38" y2="318.30"/><line x1="1120.11" y1="318.30" x2="1120.11" y2="356.00"/><line x1="1148.38" y1="318.30" x2="1148.38" y2="356.00"/><line x1="1149.58" y1="18.50" x2="1149.58" y2="318.30"/><line x1="1177.84" y1="18.50" x2="1177.84" y2="318.30"/><line x1="1149.58" y1="318.30" x2="1149.58" y2="428.50"/><line x1="1177.84" y1="318.30" x2="1177.84" y2="428.50"/><line x1="1149.58" y1="130.00" x2="1149.58" y2="318.30"/><line x1="1177.84" y1="130.00" x2="1177.84" y2="318.30"/><line x1="1149.58" y1="318.30" x2="1149.58" y2="356.00"/><line x1="1177.84" y1="318.30" x2="1177.84" y2="356.00"/><line x1="1179.04" y1="46.50" x2="1179.04" y2="318.30"/><line x1="1207.31" y1="46.50" x2="1207.31" y2="318.30"/><line x1="1179.04" y1="318.30" x2="1179.04" y2="428.50"/><line x1="1207.31" y1="318.30" x2="1207.31" y2="428.50"/><line x1="1179.04" y1="156.50" x2="1179.04" y2="318.30"/><line x1="1207.31" y1="156.50" x2="1207.31" y2="318.30"/><line x1="1179.04" y1="318.30" x2="1179.04" y2="356.00"/><line x1="1207.31" y1="318.30" x2="1207.31" y2="356.00"/><line x1="1208.50" y1="80.00" x2="1208.50" y2="318.30"/><line x1="1236.77" y1="80.00" x2="1236.77" y2="318.30"/><line x1="1208.50" y1="318.30" x2="1208.50" y2="452.00"/><line x1="1236.77" y1="318.30" x2="1236.77" y2="452.00"/><line x1="1208.50" y1="214.00" x2="1208.50" y2="318.30"/><line x1="1236.77" y1="214.00" x2="1236.77" y2="318.30"/><line x1="1208.50" y1="318.30" x2="1208.50" y2="356.00"/><line x1="1236.77" y1="318.30" x2="1236.77" y2="356.00"/><line x1="1237.97" y1="71.00" x2="1237.97" y2="318.30"/><line x1="1266.24" y1="71.00" x2="1266.24" y2="318.30"/><line x1="1237.97" y1="318.30" x2="1237.97" y2="468.00"/><line x1="1266.24" y1="318.30" x2="1266.24" y2="468.00"/><line x1="1237.97" y1="221.00" x2="1237.97" y2="318.30"/><line x1="1266.24" y1="221.00" x2="1266.24" y2="318.30"/><line x1="1237.97" y1="318.30" x2="1237.97" y2="356.00"/><line x1="1266.24" y1="318.30" x2="1266.24" y2="356.00"/><line x1="1267.43" y1="91.50" x2="1267.43" y2="318.30"/><line x1="1295.70" y1="91.50" x2="1295.70" y2="318.30"/><line x1="1267.43" y1="318.30" x2="1267.43" y2="507.00"/><line x1="1295.70" y1="318.30" x2="1295.70" y2="507.00"/><line x1="1267.43" y1="281.50" x2="1267.43" y2="318.30"/><line x1="1295.70" y1="281.50" x2="1295.70" y2="318.30"/><line x1="1267.43" y1="318.30" x2="1267.43" y2="356.00"/><line x1="1295.70" y1="318.30" x2="1295.70" y2="356.00"/><line x1="1296.90" y1="132.50" x2="1296.90" y2="318.30"/><line x1="1325.17" y1="132.50" x2="1325.17" y2="318.30"/><line x1="1296.90" y1="318.30" x2="1296.90" y2="573.50"/><line x1="1325.17" y1="318.30" x2="1325.17" y2="573.50"/><line x1="1296.90" y1="318.30" x2="1296.90" y2="389.50"/><line x1="1325.17" y1="318.30" x2="1325.17" y2="389.50"/><line x1="1296.90" y1="318.30" x2="1296.90" y2="356.00"/><line x1="1325.17" y1="318.30" x2="1325.17" y2="356.00"/><line x1="1326.37" y1="146.00" x2="1326.37" y2="318.30"/><line x1="1354.63" y1="146.00" x2="1354.63" y2="318.30"/><line x1="1326.37" y1="318.30" x2="1326.37" y2="616.50"/><line x1="1354.63" y1="318.30" x2="1354.63" y2="616.50"/><line x1="1326.37" y1="318.30" x2="1326.37" y2="444.50"/><line x1="1354.63" y1="318.30" x2="1354.63" y2="444.50"/><line x1="1326.37" y1="318.30" x2="1326.37" y2="356.00"/><line x1="1354.63" y1="318.30" x2="1354.63" y2="356.00"/><line x1="1355.83" y1="135.50" x2="1355.83" y2="318.30"/><line x1="1384.10" y1="135.50" x2="1384.10" y2="318.30"/><line x1="1355.83" y1="318.30" x2="1355.83" y2="685.50"/><line x1="1384.10" y1="318.30" x2="1384.10" y2="685.50"/><line x1="1355.83" y1="318.30" x2="1355.83" y2="503.50"/><line x1="1384.10" y1="318.30" x2="1384.10" y2="503.50"/><line x1="1355.83" y1="318.30" x2="1355.83" y2="356.00"/><line x1="1384.10" y1="318.30" x2="1384.10" y2="356.00"/><line x1="1385.29" y1="93.50" x2="1385.29" y2="318.30"/><line x1="1413.56" y1="93.50" x2="1413.56" y2="318.30"/><line x1="1385.29" y1="318.30" x2="1385.29" y2="677.50"/><line x1="1413.56" y1="318.30" x2="1413.56" y2="677.50"/><line x1="1385.29" y1="318.30" x2="1385.29" y2="452.50"/><line x1="1413.56" y1="318.30" x2="1413.56" y2="452.50"/><line x1="1385.29" y1="318.30" x2="1385.29" y2="356.00"/><line x1="1413.56" y1="318.30" x2="1413.56" y2="356.00"/></g>
<g stroke="#000" stroke-opacity="0.55" stroke-width="1.9"><line x1="117.80" y1="167.50" x2="147.06" y2="167.50"/><line x1="117.80" y1="670.00" x2="147.06" y2="670.00"/><line x1="117.80" y1="519.50" x2="147.06" y2="519.50"/><line x1="147.26" y1="189.50" x2="176.53" y2="189.50"/><line x1="147.26" y1="676.00" x2="176.53" y2="676.00"/><line x1="147.26" y1="548.50" x2="176.53" y2="548.50"/><line x1="176.73" y1="159.50" x2="206.00" y2="159.50"/><line x1="176.73" y1="717.50" x2="206.00" y2="717.50"/><line x1="176.73" y1="558.50" x2="206.00" y2="558.50"/><line x1="206.19" y1="150.50" x2="235.46" y2="150.50"/><line x1="206.19" y1="803.00" x2="235.46" y2="803.00"/><line x1="206.19" y1="636.50" x2="235.46" y2="636.50"/><line x1="235.66" y1="164.00" x2="264.92" y2="164.00"/><line x1="235.66" y1="816.50" x2="264.92" y2="816.50"/><line x1="235.66" y1="662.50" x2="264.92" y2="662.50"/><line x1="265.12" y1="172.00" x2="294.39" y2="172.00"/><line x1="265.12" y1="843.00" x2="294.39" y2="843.00"/><line x1="265.12" y1="697.50" x2="294.39" y2="697.50"/><line x1="294.59" y1="162.00" x2="323.85" y2="162.00"/><line x1="294.59" y1="813.50" x2="323.85" y2="813.50"/><line x1="294.59" y1="657.50" x2="323.85" y2="657.50"/><line x1="324.06" y1="162.00" x2="353.32" y2="162.00"/><line x1="324.06" y1="766.00" x2="353.32" y2="766.00"/><line x1="324.06" y1="609.50" x2="353.32" y2="609.50"/><line x1="353.52" y1="128.50" x2="382.78" y2="128.50"/><line x1="353.52" y1="838.50" x2="382.78" y2="838.50"/><line x1="353.52" y1="649.00" x2="382.78" y2="649.00"/><line x1="382.99" y1="146.50" x2="412.25" y2="146.50"/><line x1="382.99" y1="858.00" x2="412.25" y2="858.00"/><line x1="382.99" y1="686.00" x2="412.25" y2="686.00"/><line x1="412.45" y1="160.00" x2="441.71" y2="160.00"/><line x1="412.45" y1="884.00" x2="441.71" y2="884.00"/><line x1="412.45" y1="727.00" x2="441.71" y2="727.00"/><line x1="441.92" y1="183.50" x2="471.18" y2="183.50"/><line x1="441.92" y1="915.00" x2="471.18" y2="915.00"/><line x1="441.92" y1="781.00" x2="471.18" y2="781.00"/><line x1="471.38" y1="177.50" x2="500.64" y2="177.50"/><line x1="471.38" y1="933.00" x2="500.64" y2="933.00"/><line x1="471.38" y1="791.50" x2="500.64" y2="791.50"/><line x1="500.85" y1="197.50" x2="530.11" y2="197.50"/><line x1="500.85" y1="953.00" x2="530.11" y2="953.00"/><line x1="500.85" y1="831.00" x2="530.11" y2="831.00"/><line x1="530.31" y1="203.00" x2="559.58" y2="203.00"/><line x1="530.31" y1="914.00" x2="559.58" y2="914.00"/><line x1="530.31" y1="800.00" x2="559.58" y2="800.00"/><line x1="559.78" y1="219.00" x2="589.04" y2="219.00"/><line x1="559.78" y1="803.50" x2="589.04" y2="803.50"/><line x1="559.78" y1="703.75" x2="589.04" y2="703.75"/><line x1="589.24" y1="217.00" x2="618.50" y2="217.00"/><line x1="589.24" y1="779.00" x2="618.50" y2="779.00"/><line x1="589.24" y1="678.00" x2="618.50" y2="678.00"/><line x1="618.71" y1="234.00" x2="647.97" y2="234.00"/><line x1="618.71" y1="815.50" x2="647.97" y2="815.50"/><line x1="618.71" y1="731.00" x2="647.97" y2="731.00"/><line x1="648.17" y1="236.50" x2="677.44" y2="236.50"/><line x1="648.17" y1="844.50" x2="677.44" y2="844.50"/><line x1="648.17" y1="764.00" x2="677.44" y2="764.00"/><line x1="677.64" y1="203.00" x2="706.90" y2="203.00"/><line x1="677.64" y1="810.50" x2="706.90" y2="810.50"/><line x1="677.64" y1="696.00" x2="706.90" y2="696.00"/><line x1="707.10" y1="230.50" x2="736.37" y2="230.50"/><line x1="707.10" y1="801.50" x2="736.37" y2="801.50"/><line x1="707.10" y1="713.50" x2="736.37" y2="713.50"/><line x1="736.57" y1="234.50" x2="765.83" y2="234.50"/><line x1="736.57" y1="823.00" x2="765.83" y2="823.00"/><line x1="736.57" y1="740.50" x2="765.83" y2="740.50"/><line x1="766.03" y1="219.00" x2="795.30" y2="219.00"/><line x1="766.03" y1="913.50" x2="795.30" y2="913.50"/><line x1="766.03" y1="815.50" x2="795.30" y2="815.50"/><line x1="795.50" y1="213.00" x2="824.76" y2="213.00"/><line x1="795.50" y1="948.50" x2="824.76" y2="948.50"/><line x1="795.50" y1="844.00" x2="824.76" y2="844.00"/><line x1="824.96" y1="199.50" x2="854.23" y2="199.50"/><line x1="824.96" y1="956.50" x2="854.23" y2="956.50"/><line x1="824.96" y1="837.00" x2="854.23" y2="837.00"/><line x1="854.43" y1="184.00" x2="883.69" y2="184.00"/><line x1="854.43" y1="884.00" x2="883.69" y2="884.00"/><line x1="854.43" y1="748.50" x2="883.69" y2="748.50"/><line x1="883.89" y1="135.00" x2="913.15" y2="135.00"/><line x1="883.89" y1="807.50" x2="913.15" y2="807.50"/><line x1="883.89" y1="623.00" x2="913.15" y2="623.00"/><line x1="913.36" y1="133.00" x2="942.62" y2="133.00"/><line x1="913.36" y1="713.00" x2="942.62" y2="713.00"/><line x1="913.36" y1="527.50" x2="942.62" y2="527.50"/><line x1="942.82" y1="129.50" x2="972.09" y2="129.50"/><line x1="942.82" y1="538.50" x2="972.09" y2="538.50"/><line x1="942.82" y1="350.50" x2="972.09" y2="350.50"/><line x1="972.29" y1="70.50" x2="1001.55" y2="70.50"/><line x1="972.29" y1="501.00" x2="1001.55" y2="501.00"/><line x1="972.29" y1="252.50" x2="1001.55" y2="252.50"/><line x1="1001.75" y1="65.00" x2="1031.02" y2="65.00"/><line x1="1001.75" y1="503.50" x2="1031.02" y2="503.50"/><line x1="1001.75" y1="250.50" x2="1031.02" y2="250.50"/><line x1="1031.21" y1="78.00" x2="1060.48" y2="78.00"/><line x1="1031.21" y1="484.50" x2="1060.48" y2="484.50"/><line x1="1031.21" y1="244.50" x2="1060.48" y2="244.50"/><line x1="1060.68" y1="56.50" x2="1089.95" y2="56.50"/><line x1="1060.68" y1="462.50" x2="1089.95" y2="462.50"/><line x1="1060.68" y1="201.50" x2="1089.95" y2="201.50"/><line x1="1090.14" y1="37.00" x2="1119.41" y2="37.00"/><line x1="1090.14" y1="441.00" x2="1119.41" y2="441.00"/><line x1="1090.14" y1="159.00" x2="1119.41" y2="159.00"/><line x1="1119.61" y1="40.50" x2="1148.88" y2="40.50"/><line x1="1119.61" y1="433.00" x2="1148.88" y2="433.00"/><line x1="1119.61" y1="157.00" x2="1148.88" y2="157.00"/><line x1="1149.08" y1="18.50" x2="1178.34" y2="18.50"/><line x1="1149.08" y1="428.50" x2="1178.34" y2="428.50"/><line x1="1149.08" y1="130.00" x2="1178.34" y2="130.00"/><line x1="1178.54" y1="46.50" x2="1207.81" y2="46.50"/><line x1="1178.54" y1="428.50" x2="1207.81" y2="428.50"/><line x1="1178.54" y1="156.50" x2="1207.81" y2="156.50"/><line x1="1208.00" y1="80.00" x2="1237.27" y2="80.00"/><line x1="1208.00" y1="452.00" x2="1237.27" y2="452.00"/><line x1="1208.00" y1="214.00" x2="1237.27" y2="214.00"/><line x1="1237.47" y1="71.00" x2="1266.74" y2="71.00"/><line x1="1237.47" y1="468.00" x2="1266.74" y2="468.00"/><line x1="1237.47" y1="221.00" x2="1266.74" y2="221.00"/><line x1="1266.93" y1="91.50" x2="1296.20" y2="91.50"/><line x1="1266.93" y1="507.00" x2="1296.20" y2="507.00"/><line x1="1266.93" y1="281.50" x2="1296.20" y2="281.50"/><line x1="1296.40" y1="132.50" x2="1325.67" y2="132.50"/><line x1="1296.40" y1="573.50" x2="1325.67" y2="573.50"/><line x1="1296.40" y1="389.50" x2="1325.67" y2="389.50"/><line x1="1325.87" y1="146.00" x2="1355.13" y2="146.00"/><line x1="1325.87" y1="616.50" x2="1355.13" y2="616.50"/><line x1="1325.87" y1="444.50" x2="1355.13" y2="444.50"/><line x1="1355.33" y1="135.50" x2="1384.60" y2="135.50"/><line x1="1355.33" y1="685.50" x2="1384.60" y2="685.50"/><line x1="1355.33" y1="503.50" x2="1384.60" y2="503.50"/><line x1="1384.79" y1="93.50" x2="1414.06" y2="93.50"/><line x1="1384.79" y1="677.50" x2="1414.06" y2="677.50"/><line x1="1384.79" y1="452.50" x2="1414.06" y2="452.50"/></g>
<rect x="89.5" y="17.5" width="1374" height="941.8" fill="none" stroke="#0000ff" stroke-opacity="0.25" stroke-width="3.4"/>
<g stroke="#0000ff" stroke-opacity="0.5" stroke-width="3.4"><line x1="88" y1="947.30" x2="109.5" y2="947.30"/><line x1="88" y1="901.43" x2="109.5" y2="901.43"/><line x1="88" y1="855.56" x2="109.5" y2="855.56"/><line x1="88" y1="809.69" x2="109.5" y2="809.69"/><line x1="88" y1="763.82" x2="109.5" y2="763.82"/><line x1="88" y1="717.95" x2="109.5" y2="717.95"/><line x1="88" y1="672.08" x2="109.5" y2="672.08"/><line x1="88" y1="626.21" x2="109.5" y2="626.21"/><line x1="88" y1="580.34" x2="109.5" y2="580.34"/><line x1="88" y1="534.47" x2="109.5" y2="534.47"/><line x1="88" y1="488.60" x2="109.5" y2="488.60"/><line x1="88" y1="442.73" x2="109.5" y2="442.73"/><line x1="88" y1="396.86" x2="109.5" y2="396.86"/><line x1="88" y1="350.99" x2="109.5" y2="350.99"/><line x1="88" y1="305.12" x2="109.5" y2="305.12"/><line x1="88" y1="259.25" x2="109.5" y2="259.25"/><line x1="88" y1="213.38" x2="109.5" y2="213.38"/><line x1="88" y1="167.51" x2="109.5" y2="167.51"/><line x1="88" y1="121.64" x2="109.5" y2="121.64"/><line x1="88" y1="75.77" x2="109.5" y2="75.77"/><line x1="1443" y1="947.54" x2="1465" y2="947.54"/><line x1="1443" y1="918.97" x2="1465" y2="918.97"/><line x1="1443" y1="890.40" x2="1465" y2="890.40"/><line x1="1443" y1="861.83" x2="1465" y2="861.83"/><line x1="1443" y1="833.26" x2="1465" y2="833.26"/><line x1="1443" y1="804.69" x2="1465" y2="804.69"/><line x1="1443" y1="776.12" x2="1465" y2="776.12"/><line x1="1443" y1="747.55" x2="1465" y2="747.55"/><line x1="1443" y1="718.98" x2="1465" y2="718.98"/><line x1="1443" y1="690.41" x2="1465" y2="690.41"/><line x1="1443" y1="661.84" x2="1465" y2="661.84"/><line x1="1443" y1="633.27" x2="1465" y2="633.27"/><line x1="1443" y1="604.70" x2="1465" y2="604.70"/><line x1="1443" y1="576.13" x2="1465" y2="576.13"/><line x1="1443" y1="547.56" x2="1465" y2="547.56"/><line x1="1443" y1="518.99" x2="1465" y2="518.99"/><line x1="1443" y1="490.42" x2="1465" y2="490.42"/><line x1="1443" y1="461.85" x2="1465" y2="461.85"/><line x1="1443" y1="433.28" x2="1465" y2="433.28"/><line x1="1443" y1="404.71" x2="1465" y2="404.71"/><line x1="1443" y1="376.14" x2="1465" y2="376.14"/><line x1="1443" y1="347.57" x2="1465" y2="347.57"/><line x1="1443" y1="319.00" x2="1465" y2="319.00"/><line x1="1443" y1="290.43" x2="1465" y2="290.43"/><line x1="1443" y1="261.86" x2="1465" y2="261.86"/><line x1="1443" y1="233.29" x2="1465" y2="233.29"/><line x1="1443" y1="204.72" x2="1465" y2="204.72"/><line x1="1443" y1="176.15" x2="1465" y2="176.15"/><line x1="1443" y1="147.58" x2="1465" y2="147.58"/><line x1="1443" y1="119.01" x2="1465" y2="119.01"/><line x1="1443" y1="90.44" x2="1465" y2="90.44"/><line x1="1443" y1="61.87" x2="1465" y2="61.87"/><line x1="220" y1="938.5" x2="220" y2="961" stroke-width="4"/><line x1="514.5" y1="938.5" x2="514.5" y2="961" stroke-width="4"/><line x1="809" y1="938.5" x2="809" y2="961" stroke-width="4"/><line x1="1103.5" y1="938.5" x2="1103.5" y2="961" stroke-width="4"/><line x1="1398" y1="938.5" x2="1398" y2="961" stroke-width="4"/></g>
<line x1="89.5" y1="318.3" x2="1443.5" y2="318.3" stroke="#000" stroke-width="2"/>
<polyline points="131.00,654.50 160.00,689.00 189.50,672.50 218.75,542.00 248.25,579.00 277.50,556.50 307.50,577.50 337.00,690.00 366.00,537.30 395.60,507.50 426.50,505.50 454.50,498.50 484.50,361.00 513.75,356.50 542.50,216.50 572.00,364.75 601.50,283.00 631.00,294.00 660.50,248.00 690.00,357.25 719.40,251.25 749.40,217.50 778.50,136.00 807.80,54.20 837.50,60.60 867.90,195.00 897.30,325.00 926.00,452.00 954.50,836.50 984.30,724.00 1014.00,790.00 1043.60,855.20 1072.50,787.00 1102.50,922.75 1131.50,926.00 1161.50,891.50 1190.50,875.25 1220.30,661.80 1250.60,614.50 1279.50,519.00 1308.20,422.80 1338.00,506.00 1367.50,365.00 1396.80,365.00" fill="none" stroke="#6e6eff" stroke-opacity="0.96" stroke-width="2.6" stroke-linejoin="miter"/>
<g font-family="Liberation Sans, Arial, Helvetica, sans-serif" font-size="32" fill="#000" stroke="#000" stroke-width="0.5"><text x="71.5" y="957.30" text-anchor="end">142</text><text x="71.5" y="911.43" text-anchor="end">143</text><text x="71.5" y="865.56" text-anchor="end">144</text><text x="71.5" y="819.69" text-anchor="end">145</text><text x="71.5" y="773.82" text-anchor="end">146</text><text x="71.5" y="727.95" text-anchor="end">147</text><text x="71.5" y="682.08" text-anchor="end">148</text><text x="71.5" y="636.21" text-anchor="end">149</text><text x="71.5" y="590.34" text-anchor="end">150</text><text x="71.5" y="544.47" text-anchor="end">151</text><text x="71.5" y="498.60" text-anchor="end">152</text><text x="71.5" y="452.73" text-anchor="end">153</text><text x="71.5" y="406.86" text-anchor="end">154</text><text x="71.5" y="360.99" text-anchor="end">155</text><text x="71.5" y="315.12" text-anchor="end">156</text><text x="71.5" y="269.25" text-anchor="end">157</text><text x="71.5" y="223.38" text-anchor="end">158</text><text x="71.5" y="177.51" text-anchor="end">159</text><text x="71.5" y="131.64" text-anchor="end">160</text><text x="71.5" y="85.77" text-anchor="end">161</text><text x="1471.5" y="957.54" letter-spacing="-0.3">-220000</text><text x="1471.5" y="928.97" letter-spacing="-0.3">-210000</text><text x="1471.5" y="900.40" letter-spacing="-0.3">-200000</text><text x="1471.5" y="871.83" letter-spacing="-0.3">-190000</text><text x="1471.5" y="843.26" letter-spacing="-0.3">-180000</text><text x="1471.5" y="814.69" letter-spacing="-0.3">-170000</text><text x="1471.5" y="786.12" letter-spacing="-0.3">-160000</text><text x="1471.5" y="757.55" letter-spacing="-0.3">-150000</text><text x="1471.5" y="728.98" letter-spacing="-0.3">-140000</text><text x="1471.5" y="700.41" letter-spacing="-0.3">-130000</text><text x="1471.5" y="671.84" letter-spacing="-0.3">-120000</text><text x="1471.5" y="643.27" letter-spacing="-0.3">-110000</text><text x="1471.5" y="614.70" letter-spacing="-0.3">-100000</text><text x="1471.5" y="586.13" letter-spacing="-0.3">-90000</text><text x="1471.5" y="557.56" letter-spacing="-0.3">-80000</text><text x="1471.5" y="528.99" letter-spacing="-0.3">-70000</text><text x="1471.5" y="500.42" letter-spacing="-0.3">-60000</text><text x="1471.5" y="471.85" letter-spacing="-0.3">-50000</text><text x="1471.5" y="443.28" letter-spacing="-0.3">-40000</text><text x="1471.5" y="414.71" letter-spacing="-0.3">-30000</text><text x="1471.5" y="386.14" letter-spacing="-0.3">-20000</text><text x="1471.5" y="357.57" letter-spacing="-0.3">-10000</text><text x="1471.5" y="329.00" font-weight="bold">0</text><text x="1471.5" y="300.43">10000</text><text x="1471.5" y="271.86">20000</text><text x="1471.5" y="243.29">30000</text><text x="1471.5" y="214.72">40000</text><text x="1471.5" y="186.15">50000</text><text x="1471.5" y="157.58">60000</text><text x="1471.5" y="129.01">70000</text><text x="1471.5" y="100.44">80000</text><text x="1471.5" y="71.87">90000</text><text x="157.8" y="1007.5" font-size="31.6">2024/2/13</text><text x="452.3" y="1007.5" font-size="31.6">2024/4/23</text><text x="746.8" y="1007.5" font-size="31.6">2024/7/2</text><text x="1041.3" y="1007.5" font-size="31.6">2024/9/10</text><text x="1335.8" y="1007.5" font-size="31.6">2024/11/19</text><text x="108.8" y="56.5">JPY</text></g>
<g font-family="Liberation Sans, Arial, Helvetica, sans-serif" font-size="32"><text x="108.8" y="115" font-size="31.5" fill="#e62e24" stroke="#e62e24" stroke-width="0.5">Long</text><text x="108.8" y="154" font-size="31.5" fill="#f09038" stroke="#f09038" stroke-width="0.5">Short</text><text x="108.8" y="193" font-size="31.5" fill="#2f8020" stroke="#2f8020" stroke-width="0.5">Net</text><text x="108.8" y="232.5" font-size="31.5" fill="#4d4dff" stroke="#4d4dff" stroke-width="0.5">Rate</text><text x="108" y="929" fill="#228b22" fill-opacity="0.5" font-size="31.5">nanoniele.jp / ottofund.blogspot.com</text></g>
</svg>
</body></html>
